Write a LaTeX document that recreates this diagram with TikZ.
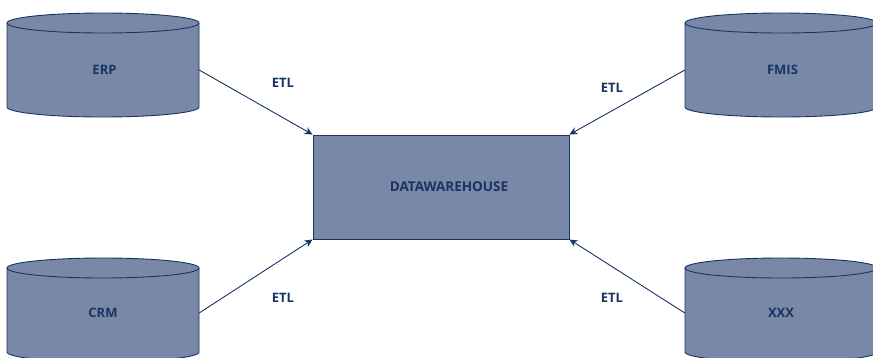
\documentclass[tikz,border=0pt]{standalone}
\usepackage{fontspec}
\setmainfont{Open Sans}
\usetikzlibrary{arrows.meta}
\definecolor{dbfill}{RGB}{122,136,168}
\definecolor{navy}{RGB}{24,52,98}
\tikzset{
  cyl/.style={fill=dbfill, draw=navy, line width=0.9pt},
  lbl/.style={text=navy, font=\fontsize{13}{15}\selectfont\bfseries, inner sep=0pt},
  body/.style={minimum width=192pt, minimum height=94pt, inner sep=0pt, lbl},
  dw/.style={fill=dbfill, draw=navy, line width=0.9pt, minimum width=256pt, minimum height=104pt, inner sep=0pt, lbl},
  flow/.style={draw=navy, line width=0.9pt, -{Stealth[length=8pt,width=7.5pt]}},
  etl/.style={lbl}
}
\newcommand{\dbcyl}[4]{% L, R, T, B
  \path[cyl] (#1,#3) -- (#1,#4) arc[start angle=180,end angle=360,x radius=96pt,y radius=10pt]
     -- (#2,#3) arc[start angle=0,end angle=180,x radius=96pt,y radius=10pt] -- cycle;
  \draw[navy, line width=0.9pt] (#1,#3) arc[start angle=180,end angle=360,x radius=96pt,y radius=10pt];
}
\begin{document}
\begin{tikzpicture}[x=1pt,y=-1pt]
\useasboundingbox (0,0) rectangle (873,357);
\dbcyl{7}{199}{23}{107}
\dbcyl{7}{199}{268}{352}
\dbcyl{685}{877}{23}{107}
\dbcyl{685}{877}{268}{352}
\node[body] (erp) at (103,70) {\hspace*{3pt}ERP};
\node[body] (crm) at (103,313) {CRM};
\node[body] (fmis) at (781,70) {\hspace*{3pt}FMIS};
\node[body] (xxx) at (781,313) {XXX};
\node[dw, font=\fontsize{13.5}{15}\selectfont\bfseries] (dwh) at (441,187) {\hspace*{16pt}DATAWAREHOUSE};
\draw[flow] (erp.east) -- (dwh.north west);
\draw[flow] (crm.east) -- (dwh.south west);
\draw[flow] (fmis.west) -- (dwh.north east);
\draw[flow] (xxx.west) -- (dwh.south east);
\node[etl] (e1) at (283,83) {ETL};
\node[etl] (e2) at (612,88) {ETL};
\node[etl] (e3) at (283,298) {ETL};
\node[etl] (e4) at (612,298) {ETL};
\end{tikzpicture}
\end{document}
